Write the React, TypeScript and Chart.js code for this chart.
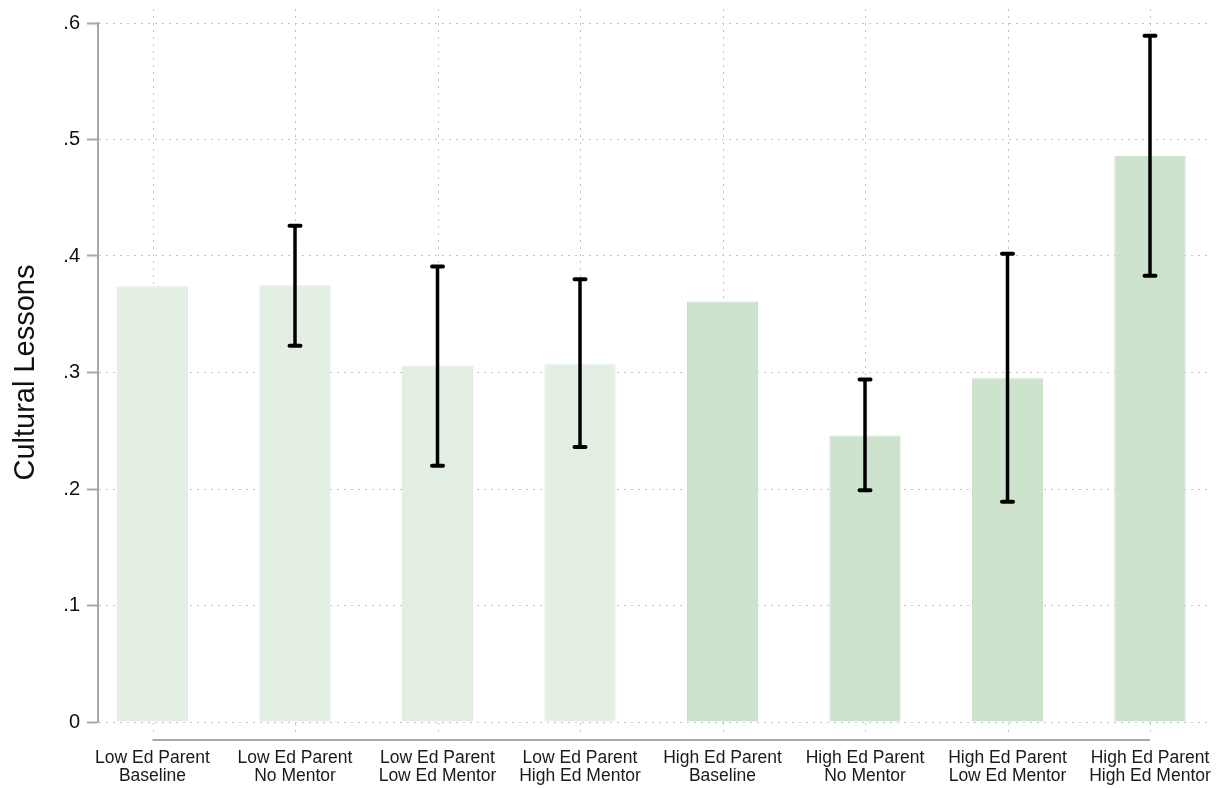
import { useEffect, useRef } from "react";
import { Chart, registerables } from "chart.js";

Chart.register(...registerables);

// ---- data ----
const parentGroups = [
  "Low Ed Parent", "Low Ed Parent", "Low Ed Parent", "Low Ed Parent",
  "High Ed Parent", "High Ed Parent", "High Ed Parent", "High Ed Parent",
];
const mentorGroups = [
  "Baseline", "No Mentor", "Low Ed Mentor", "High Ed Mentor",
  "Baseline", "No Mentor", "Low Ed Mentor", "High Ed Mentor",
];
const means = [0.374, 0.375, 0.306, 0.307, 0.361, 0.246, 0.295, 0.486];
const ciLow = [null, 0.323, 0.220, 0.236, null, 0.199, 0.189, 0.383];
const ciHigh = [null, 0.426, 0.391, 0.380, null, 0.294, 0.402, 0.589];
const yTickValues = [0, 0.1, 0.2, 0.3, 0.4, 0.5, 0.6];
const yTickLabels = ["0", ".1", ".2", ".3", ".4", ".5", ".6"];
const yTitle = "Cultural Lessons";

const LOW_FILL = "#e3efe3";
const LOW_BORDER = "#d9ead9";
const HIGH_FILL = "#cde3cd";
const HIGH_BORDER = "#bfdcbf";

const FONT = "'Liberation Sans', Arial, Helvetica, sans-serif";

const stataPlugin = {
  id: "stataDecor",
  beforeDatasetsDraw(chart: any) {
    const { ctx, chartArea, scales } = chart;
    const x = scales.x;
    ctx.save();
    ctx.strokeStyle = "#c4c4c4";
    ctx.lineWidth = 1;
    ctx.setLineDash([2, 5]);
    ctx.beginPath();
    for (let i = 0; i < means.length; i++) {
      const px = Math.round(x.getPixelForValue(i)) + 0.5;
      ctx.moveTo(px, chartArea.top - 14);
      ctx.lineTo(px, chartArea.bottom + 12);
    }
    ctx.stroke();
    ctx.setLineDash([]);
    ctx.strokeStyle = "#a8a8a8";
    ctx.lineWidth = 2;
    ctx.beginPath();
    const ay = chartArea.bottom + 18;
    ctx.moveTo(x.getPixelForValue(0), ay);
    ctx.lineTo(x.getPixelForValue(means.length - 1), ay);
    ctx.stroke();
    ctx.restore();
  },
  afterDatasetsDraw(chart: any) {
    const { ctx, scales } = chart;
    const x = scales.x;
    const y = scales.y;
    ctx.save();
    ctx.strokeStyle = "#000";
    for (let i = 0; i < means.length; i++) {
      const lo = ciLow[i];
      const hi = ciHigh[i];
      if (lo == null || hi == null) continue;
      const px = x.getPixelForValue(i);
      const yl = y.getPixelForValue(lo);
      const yh = y.getPixelForValue(hi);
      ctx.lineWidth = 3.5;
      ctx.lineCap = "butt";
      ctx.beginPath();
      ctx.moveTo(px, yh);
      ctx.lineTo(px, yl);
      ctx.stroke();
      ctx.lineWidth = 4;
      ctx.lineCap = "round";
      ctx.beginPath();
      ctx.moveTo(px - 5.5, yh);
      ctx.lineTo(px + 5.5, yh);
      ctx.moveTo(px - 5.5, yl);
      ctx.lineTo(px + 5.5, yl);
      ctx.stroke();
    }
    ctx.restore();
  },
};

export default function App() {
  const ref = useRef<HTMLCanvasElement | null>(null);

  useEffect(() => {
    if (!ref.current) return;
    const n = means.length;
    const chart = new Chart(ref.current, {
      type: "bar",
      data: {
        datasets: [
          {
            data: means.map((m, i) => ({ x: i, y: m })),
            backgroundColor: parentGroups.map((p) => (p.startsWith("Low") ? LOW_FILL : HIGH_FILL)),
            borderColor: parentGroups.map((p) => (p.startsWith("Low") ? LOW_BORDER : HIGH_BORDER)),
            borderWidth: 1,
            barPercentage: 0.5,
            categoryPercentage: 1,
          },
        ],
      },
      options: {
        animation: false,
        responsive: false,
        maintainAspectRatio: false,
        layout: { padding: { top: 23, right: 15, left: 0, bottom: 0 } },
        plugins: {
          legend: { display: false },
          tooltip: { enabled: false },
          title: { display: false },
        },
        scales: {
          x: {
            type: "linear",
            offset: false,
            min: -0.3825,
            max: -0.3825 + 1112 / 142.5,
            afterBuildTicks: (s: any) => {
              s.ticks = means.map((_, i) => ({ value: i }));
            },
            afterFit: (s: any) => {
              s.height = 66;
              s.paddingLeft = 0;
              s.paddingRight = 0;
            },
            grid: { display: false, drawTicks: false, offset: false },
            border: { display: false },
            ticks: {
              autoSkip: false,
              maxRotation: 0,
              padding: 27,
              color: "#1a1a1a",
              font: { family: FONT, size: 17.5, lineHeight: 1.03 },
              callback: (v: any) => {
                const i = Math.round(Number(v));
                if (i < 0 || i >= n) return "";
                return [parentGroups[i], mentorGroups[i]];
              },
            },
          },
          y: {
            type: "linear",
            min: 0,
            max: 0.6,
            afterBuildTicks: (s: any) => {
              s.ticks = yTickValues.map((v) => ({ value: v }));
            },
            afterFit: (s: any) => {
              s.width = 98;
            },
            grid: {
              color: "#c4c4c4",
              lineWidth: 1,
              drawTicks: true,
              tickLength: 11,
              tickColor: "#a8a8a8",
              tickWidth: 2,
              tickBorderDash: [],
            },
            border: { display: true, color: "#a8a8a8", width: 2, dash: [2, 5] },
            ticks: {
              padding: 7,
              color: "#111",
              font: { family: FONT, size: 20 },
              callback: (v: any) => {
                const idx = yTickValues.findIndex((t) => Math.abs(t - Number(v)) < 1e-6);
                return idx >= 0 ? yTickLabels[idx] : "";
              },
            },
            title: {
              display: true,
              text: yTitle,
              color: "#111",
              font: { family: FONT, size: 29 },
              padding: { top: 9, bottom: 0 },
            },
          },
        },
      },
      plugins: [stataPlugin],
    });
    return () => chart.destroy();
  }, []);

  return (
    <div style={{ position: "fixed", left: 0, top: 0, width: 1225, height: 788, background: "#fff" }}>
      <canvas ref={ref} width={1225} height={788} style={{ display: "block" }} />
    </div>
  );
}
